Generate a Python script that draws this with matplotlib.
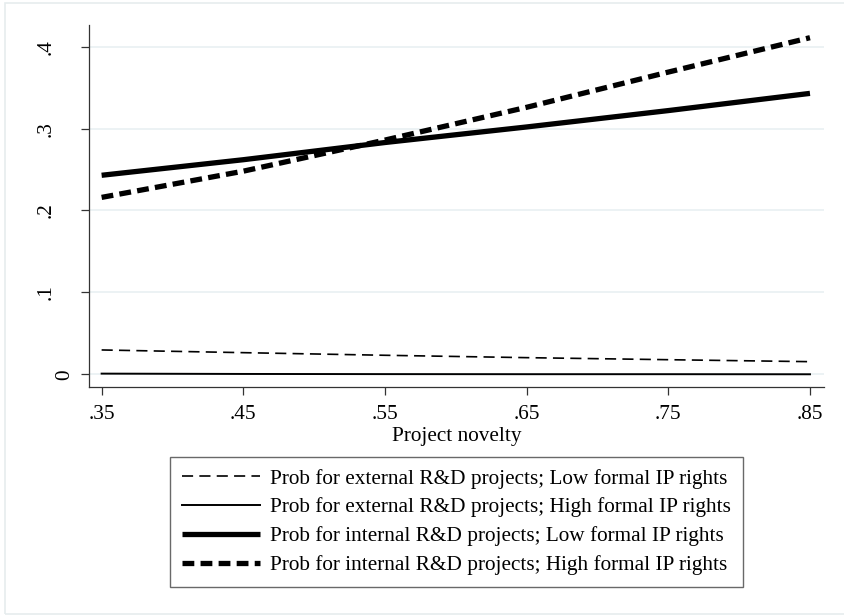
import matplotlib
matplotlib.use("Agg")
import matplotlib.pyplot as plt
from matplotlib.patches import Rectangle

plt.rcParams['font.family'] = ['Liberation Serif', 'DejaVu Serif']
plt.rcParams['lines.scale_dashes'] = False

novelty = [0.35, 0.45, 0.55, 0.65, 0.75, 0.85]
ext_low = [0.0297, 0.0264, 0.0232, 0.0203, 0.0178, 0.0154]
ext_high = [0.0008, 0.0004, 0.0002, 0.0001, 0.0001, 0.0000]
int_low = [0.243, 0.262, 0.283, 0.302, 0.322, 0.343]
int_high = [0.216, 0.248, 0.286, 0.326, 0.369, 0.411]

labels = [
    "Prob for external R&D projects; Low formal IP rights",
    "Prob for external R&D projects; High formal IP rights",
    "Prob for internal R&D projects; Low formal IP rights",
    "Prob for internal R&D projects; High formal IP rights",
]
xticks = [0.35, 0.45, 0.55, 0.65, 0.75, 0.85]
xticklabels = [".35", ".45", ".55", ".65", ".75", ".85"]
yticks = [0, 0.1, 0.2, 0.3, 0.4]
yticklabels = ["0", ".1", ".2", ".3", ".4"]

W, H = 844, 615
fig = plt.figure(figsize=(W / 100, H / 100), dpi=100)
fig.patch.set_facecolor('white')
# outer graph-region border
fig.patches.append(Rectangle((5 / W, 1 / H), 1.2, (H - 4) / H, transform=fig.transFigure,
                             fill=False, edgecolor='#e6ecee', linewidth=1.2))

ax = fig.add_axes([89.3 / W, 1 - 387.3 / H, (824 - 89.3) / W, (387.3 - 25) / H])
ax.set_xlim(0.3413, 0.8599)
ax.set_ylim(-0.0159, 0.4265)

for y in yticks:
    ax.axhline(y, color='#eaf1f3', linewidth=1.3, zorder=0)

l1, = ax.plot(novelty, ext_low, color='black', linewidth=1.2, dashes=(8, 4.5), label=labels[0])
l2, = ax.plot(novelty, ext_high, color='black', linewidth=1.4, label=labels[1])
l3, = ax.plot(novelty, int_low, color='black', linewidth=3.8, solid_capstyle='butt', label=labels[2])
l4, = ax.plot(novelty, int_high, color='black', linewidth=3.8, dashes=(8.5, 4.5), label=labels[3])

for s in ['top', 'right']:
    ax.spines[s].set_visible(False)
for s in ['left', 'bottom']:
    ax.spines[s].set_color('#333333')
    ax.spines[s].set_linewidth(0.9)

FS = 15.3
ax.set_xticks(xticks)
ax.set_xticklabels(xticklabels, fontsize=FS)
ax.set_yticks(yticks)
ax.set_yticklabels(yticklabels, fontsize=FS, rotation=90, va='center')
ax.tick_params(axis='both', length=6, width=0.9, color='#333333')
ax.tick_params(axis='x', pad=7)
ax.tick_params(axis='y', pad=5)
ticks = ax.yaxis.get_major_ticks()
for i, t in enumerate(ticks):
    if i > 0:
        t.set_pad(18)

ax.set_xlabel("Project novelty", fontsize=FS, labelpad=2)

leg = fig.legend(handles=[l1, l2, l3, l4], loc='upper center',
                 bbox_to_anchor=(456.5 / W, 1 - 456.7 / H), ncol=1,
                 fontsize=FS, frameon=True, fancybox=False, shadow=False,
                 handlelength=3.7, handletextpad=0.47, labelspacing=0.42,
                 borderpad=0.56, borderaxespad=0)
leg.get_frame().set_edgecolor('#444444')
leg.get_frame().set_linewidth(1.0)

fig.savefig("out.png", dpi=100, facecolor='white')
